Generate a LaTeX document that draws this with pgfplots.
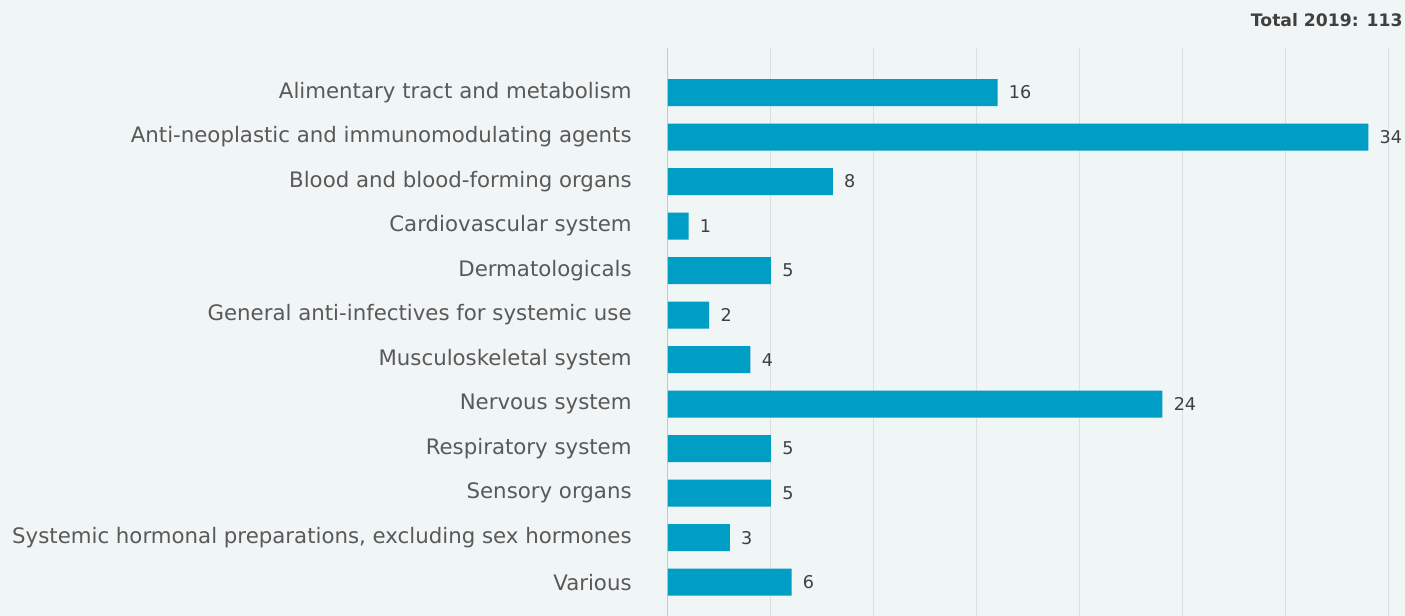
\documentclass[border=0pt]{standalone}
\usepackage{pgfplots}
\pgfplotsset{compat=1.18}
\usepackage{fontspec}
\setmainfont{DejaVu Sans}
\definecolor{bg}{HTML}{F0F5F5}
\definecolor{barc}{HTML}{009DC4}
\definecolor{lbl}{HTML}{595959}
\definecolor{val}{HTML}{404040}
\definecolor{gridc}{HTML}{DFDFDF}
\begin{document}
\begin{tikzpicture}
\path[use as bounding box, fill=bg] (0,0) rectangle (702.5pt,308pt);
\node[anchor=east, font=\bfseries\fontsize{8.6}{10}\selectfont, text=val, inner sep=0pt] at (701.5pt,298pt) {Total 2019: 113};
\begin{axis}[
  at={(334pt,0pt)}, anchor=south west,
  scale only axis, width=368.5pt, height=284pt,
  xbar, bar width=13.5pt,
  xmin=0, xmax=35.78,
  ymin=-1, ymax=11.76,
  y dir=reverse,
  clip=false,
  axis line style={draw=none},
  major tick length=0pt,
  xtick={5,10,...,35}, xticklabels={},
  xmajorgrids, grid style={draw=gridc, line width=0.5pt},
  extra x ticks={0}, extra x tick labels={},
  extra x tick style={grid style={draw=black!22, line width=0.5pt}},
  ytick={0,...,11},
  yticklabels={Alimentary tract and metabolism,Anti-neoplastic and immunomodulating agents,Blood and blood-forming organs,Cardiovascular system,Dermatologicals,General anti-infectives for systemic use,Musculoskeletal system,Nervous system,Respiratory system,Sensory organs,{Systemic hormonal preparations, excluding sex hormones},Various},
  yticklabel style={anchor=east, inner sep=0pt, xshift=-18pt, font=\fontsize{10.65}{12}\selectfont, text=lbl},
  /pgf/number format/assume math mode=true,
  nodes near coords,
  every node near coord/.append style={anchor=west, inner sep=0pt, xshift=5.5pt, font=\fontsize{8.8}{10}\selectfont, text=val},
]
\addplot[fill=barc, draw=none] coordinates {
(16,0) (34,1) (8,2) (1,3) (5,4) (2,5) (4,6) (24,7) (5,8) (5,9) (3,10) (6,11)
};
\end{axis}
\end{tikzpicture}
\end{document}
